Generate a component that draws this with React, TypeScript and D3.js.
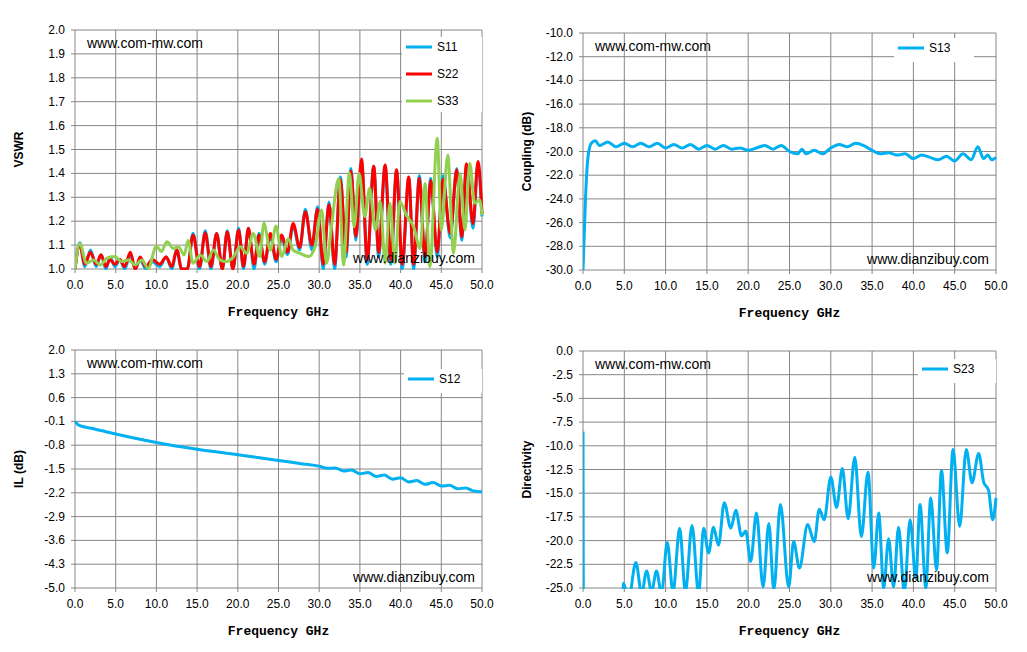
import * as d3 from 'd3';

// ---- VSWR (top-left) ----
const s22Freq = [0, 0.6, 1.2, 1.9, 2.6, 3.2, 3.8, 4.3, 4.9, 5.5, 6.1, 6.8, 7.4, 8.0, 8.7, 9.5, 10.4, 11.2, 11.9, 12.5, 13.1,
  13.8, 14.5, 15.3, 16.0, 16.7, 17.4, 18.1, 18.7, 19.4, 20.1, 20.7, 21.3, 22.0, 22.6, 23.3, 24.0, 24.7, 25.4, 26.1, 26.8,
  27.6, 28.3, 29.1, 29.8, 30.5, 31.2, 31.9, 32.6, 33.3, 33.9, 34.5, 35.2, 35.9, 36.7, 37.3, 38.1, 38.8, 39.5, 40.2, 41.0,
  41.6, 42.3, 43.0, 43.7, 44.5, 45.2, 46.1, 46.9, 47.5, 48.1, 48.9, 49.5, 50.0];
const s22Vals = [1.0, 1.1, 1.02, 1.07, 1.02, 1.06, 1.01, 1.04, 1.02, 1.04, 1.01, 1.07, 1.0, 1.05, 1.01, 1.04, 1.02, 1.05, 1.01, 1.08, 1.0,
  1.0, 1.142, 1.01, 1.152, 1.01, 1.149, 1.0, 1.156, 1.0, 1.163, 1.01, 1.17, 1.02, 1.142, 1.03, 1.149, 1.04, 1.142, 1.07, 1.19,
  1.09, 1.24, 1.1, 1.25, 1.02, 1.27, 1.02, 1.375, 1.07, 1.41, 1.135, 1.46, 1.04, 1.43, 1.07, 1.435, 1.04, 1.415, 1.02, 1.385,
  1.02, 1.38, 1.05, 1.37, 1.07, 1.375, 1.15, 1.415, 1.135, 1.44, 1.19, 1.45, 1.23];
const s11Vals = [1.0, 1.11, 1.01, 1.08, 1.01, 1.06, 1.0, 1.05, 1.01, 1.04, 1.0, 1.06, 1.0, 1.04, 1.0, 1.03, 1.01, 1.05, 1.0, 1.08, 1.0,
  1.0, 1.15, 1.0, 1.16, 1.0, 1.15, 1.0, 1.16, 1.0, 1.17, 1.0, 1.17, 1.0, 1.15, 1.02, 1.14, 1.03, 1.13, 1.06, 1.18,
  1.08, 1.25, 1.08, 1.26, 1.0, 1.28, 1.0, 1.385, 1.05, 1.42, 1.12, 1.45, 1.02, 1.43, 1.05, 1.43, 1.02, 1.41, 1.0, 1.38,
  1.0, 1.39, 1.03, 1.38, 1.05, 1.39, 1.13, 1.42, 1.12, 1.43, 1.17, 1.44, 1.22];
const s33Freq = [0, 0.6, 1.4, 2.3, 3.1, 3.9, 4.9, 5.7, 6.6, 7.4, 8.2, 9.0, 10.0, 10.6, 11.3, 12.1, 12.7, 13.4, 13.9, 14.5,
  15.4, 16.2, 17.0, 17.8, 18.6, 19.5, 20.3, 21.1, 21.9, 22.7, 23.2, 24.0, 24.7, 25.4, 26.2, 26.8, 27.6, 28.7, 29.5, 30.3,
  30.9, 31.5, 32.4, 33.0, 33.7, 34.3, 34.9, 35.6, 36.2, 36.9, 37.5, 38.1, 38.7, 39.3, 39.9, 40.7, 41.6, 42.4, 43.0, 43.6,
  44.5, 45.0, 45.8, 46.5, 47.3, 47.9, 48.5, 49.1, 49.7, 50.0];
const s33Vals = [1.0, 1.107, 1.024, 1.038, 1.017, 1.045, 1.052, 1.031, 1.038, 1.017, 1.038, 1.003, 1.096, 1.073, 1.114, 1.086, 1.093, 1.059, 1.119, 1.024,
  1.059, 1.031, 1.079, 1.038, 1.031, 1.052, 1.093, 1.066, 1.149, 1.052, 1.191, 1.079, 1.18, 1.052, 1.128, 1.079, 1.066, 1.052, 1.093, 1.247,
  1.024, 1.177, 1.379, 1.017, 1.403, 1.177, 1.4, 1.219, 1.338, 1.163, 1.282, 1.024, 1.275, 1.024, 1.282, 1.226, 1.177, 1.086, 1.358, 1.01,
  1.547, 1.163, 1.477, 1.066, 1.4, 1.163, 1.442, 1.275, 1.289, 1.226];

// ---- Coupling (top-right) ----
const s13Freq = [0, 0.3, 0.6, 1, 1.5, 2, 3, 4, 5, 6, 7, 8, 9, 10, 11, 12, 13, 14, 15, 16, 17, 18, 19, 20, 21, 22, 23, 24, 25, 26,
  26.5, 27, 28, 29, 30, 31, 32, 33, 34, 35, 36, 37, 38, 39, 40, 41, 42, 43, 44, 45, 46, 47, 47.8, 48.5, 49, 49.5, 50];
const s13Vals = [-30, -24, -20.5, -19.3, -19.1, -19.5, -19.2, -19.6, -19.3, -19.6, -19.3, -19.6, -19.3, -19.7, -19.4, -19.7, -19.4, -19.8, -19.5, -19.8,
  -19.5, -19.8, -19.7, -19.9, -19.7, -19.5, -19.8, -19.5, -20.0, -20.2, -19.8, -20.2, -19.9, -20.2, -19.7, -19.4, -19.6, -19.3, -19.5, -19.9,
  -20.2, -20.1, -20.3, -20.2, -20.6, -20.3, -20.5, -20.7, -20.4, -20.8, -20.2, -20.7, -19.6, -20.6, -20.3, -20.7, -20.5];

// ---- Insertion loss (bottom-left) ----
const s12Freq = [0, 0.5, 2, 5, 10, 15, 20, 25, 28, 30, 31, 32, 33, 34, 35, 36, 37, 38, 39, 40, 41, 42, 43, 44, 45, 46, 47, 48, 49, 50];
const s12Vals = [-0.1, -0.22, -0.3, -0.47, -0.72, -0.92, -1.08, -1.25, -1.35, -1.42, -1.48, -1.47, -1.56, -1.53, -1.64, -1.6, -1.72, -1.68, -1.8, -1.76,
  -1.88, -1.84, -1.95, -1.9, -2.0, -1.98, -2.08, -2.06, -2.15, -2.17];

// ---- Directivity (bottom-right) ----
const s23Freq = [0, 0.05, 4.8, 4.9, 5.5, 6.4, 7.1, 7.7, 8.3, 8.9, 9.5, 10.2, 10.9, 11.7, 12.4, 13.2, 14.0, 14.6, 15.2, 15.8, 16.4, 17.1,
  17.9, 18.5, 19.2, 19.7, 20.3, 21.0, 21.8, 22.5, 23.1, 23.9, 24.9, 25.5, 26.2, 27.2, 28.0, 28.6, 29.2, 30.0, 30.7, 31.4,
  32.1, 32.9, 33.7, 34.5, 35.2, 35.8, 36.4, 37.0, 37.6, 38.2, 38.9, 39.6, 40.3, 40.8, 41.5, 42.1, 42.8, 43.4, 44.1, 44.8,
  45.6, 46.4, 47.1, 47.9, 48.5, 49.1, 49.6, 50.0];
const s23Vals = [-8.5, -27, -27, -24.5, -26.3, -22.3, -25.6, -23.2, -25.4, -23.2, -25.6, -20.2, -25.4, -18.7, -25.4, -18.4, -25.6, -18.7, -21.3, -18.6, -20.5, -16.0,
  -18.7, -16.8, -19.5, -19.0, -22.2, -17.1, -24.9, -18.2, -25.2, -16.2, -24.9, -20.1, -22.9, -18.3, -20.1, -16.7, -17.8, -13.3, -16.5, -12.4,
  -17.7, -11.2, -19.6, -12.8, -22.9, -17.1, -25.0, -19.8, -24.9, -18.6, -25.4, -17.8, -24.0, -16.2, -25.0, -15.5, -23.1, -12.6, -21.3, -10.4,
  -18.5, -10.4, -13.9, -10.8, -13.8, -14.7, -17.8, -15.5];

const BLUE = '#00B0F0';
const RED = '#FF0000';
const GREEN = '#92D050';

type Series = { name: string; freq: number[]; vals: number[]; color: string };

interface PanelProps {
  id: string;
  x0: number; x1: number; y0: number; y1: number;
  yDomain: [number, number];
  yStep: number;
  yDigits: number;
  yLabel: string;
  series: Series[];
  legend: { x: number; y: number; w: number; h: number };
}

const Panel = ({ id, x0, x1, y0, y1, yDomain, yStep, yDigits, yLabel, series, legend }: PanelProps) => {
  const x = d3.scaleLinear().domain([0, 50]).range([x0, x1]);
  const y = d3.scaleLinear().domain(yDomain).range([y1, y0]);
  const xTicks = d3.range(0, 50.001, 5);
  const nY = Math.round((yDomain[1] - yDomain[0]) / yStep);
  const yTicks = d3.range(0, nY + 1).map(i => yDomain[0] + i * yStep);
  const line = d3.line<[number, number]>().x(d => x(d[0])).y(d => y(d[1])).curve(d3.curveMonotoneX);
  const tickFont = { fontFamily: 'Liberation Sans, Arial, sans-serif', fontSize: 12 };
  return (
    <g>
      <defs>
        <clipPath id={`clip-${id}`}>
          <rect x={x0} y={y0 - 2} width={x1 - x0 + 2} height={y1 - y0 + 3} />
        </clipPath>
      </defs>
      {xTicks.map(t => (
        <line key={`gx${t}`} x1={x(t)} x2={x(t)} y1={y0} y2={y1 + 4} stroke="#868686" strokeWidth={1} />
      ))}
      {yTicks.map(t => (
        <line key={`gy${t}`} x1={x0 - 4} x2={x1} y1={y(t)} y2={y(t)} stroke="#868686" strokeWidth={1} />
      ))}
      {xTicks.map(t => (
        <text key={`tx${t}`} x={x(t)} y={y1 + 20} textAnchor="middle" style={tickFont}>{t.toFixed(1)}</text>
      ))}
      {yTicks.map(t => (
        <text key={`ty${t}`} x={x0 - 10} y={y(t) + 4} textAnchor="end" style={tickFont}>{t.toFixed(yDigits)}</text>
      ))}
      <text x={(x0 + x1) / 2} y={y1 + 47} textAnchor="middle"
        style={{ fontFamily: 'Liberation Mono, monospace', fontWeight: 'bold', fontSize: 13 }}>Frequency GHz</text>
      <text transform={`translate(${x0 - 52},${(y0 + y1) / 2}) rotate(-90)`} textAnchor="middle"
        style={{ fontFamily: 'Liberation Sans, Arial, sans-serif', fontWeight: 'bold', fontSize: 12 }}>{yLabel}</text>
      <g clipPath={`url(#clip-${id})`}>
        {series.map(s => (
          <path key={s.name} d={line(s.freq.map((f, i) => [f, s.vals[i]] as [number, number])) || ''}
            fill="none" stroke={s.color} strokeWidth={3} strokeLinejoin="round" />
        ))}
      </g>
      <rect x={legend.x} y={legend.y} width={legend.w} height={legend.h} fill="white" />
      {series.map((s, i) => (
        <g key={`lg${s.name}`}>
          <line x1={legend.x + 4} x2={legend.x + 30} y1={legend.y + 10 + i * 27} y2={legend.y + 10 + i * 27}
            stroke={s.color} strokeWidth={3} />
          <text x={legend.x + 35} y={legend.y + 14 + i * 27} style={tickFont}>{s.name}</text>
        </g>
      ))}
      <text x={x0 + 12} y={y0 + 18} style={{ fontFamily: 'Liberation Sans, Arial, sans-serif', fontSize: 14 }}>www.com-mw.com</text>
      <text x={x1 - 7} y={y1 - 6} textAnchor="end" style={{ fontFamily: 'Liberation Sans, Arial, sans-serif', fontSize: 14 }}>www.dianzibuy.com</text>
    </g>
  );
};

export default function App() {
  return (
    <svg width={1027} height={652} style={{ position: 'absolute', left: 0, top: 0, background: 'white' }}>
      <Panel id="vswr" x0={75} x1={482} y0={30} y1={269} yDomain={[1, 2]} yStep={0.1} yDigits={1} yLabel="VSWR"
        series={[{ name: 'S11', freq: s22Freq, vals: s11Vals, color: BLUE },
          { name: 'S22', freq: s22Freq, vals: s22Vals, color: RED },
          { name: 'S33', freq: s33Freq, vals: s33Vals, color: GREEN }]}
        legend={{ x: 402, y: 37, w: 80, h: 75 }} />
      <Panel id="cpl" x0={583} x1={996} y0={33} y1={270} yDomain={[-30, -10]} yStep={2} yDigits={1} yLabel="Coupling (dB)"
        series={[{ name: 'S13', freq: s13Freq, vals: s13Vals, color: BLUE }]}
        legend={{ x: 894, y: 38, w: 80, h: 24 }} />
      <Panel id="il" x0={75} x1={482} y0={350} y1={588} yDomain={[-5, 2]} yStep={0.7} yDigits={1} yLabel="IL (dB)"
        series={[{ name: 'S12', freq: s12Freq, vals: s12Vals, color: BLUE }]}
        legend={{ x: 404, y: 369, w: 78, h: 24 }} />
      <Panel id="dir" x0={583} x1={996} y0={351} y1={588} yDomain={[-25, 0]} yStep={2.5} yDigits={1} yLabel="Directivity"
        series={[{ name: 'S23', freq: s23Freq, vals: s23Vals, color: BLUE }]}
        legend={{ x: 918, y: 359, w: 78, h: 24 }} />
    </svg>
  );
}
